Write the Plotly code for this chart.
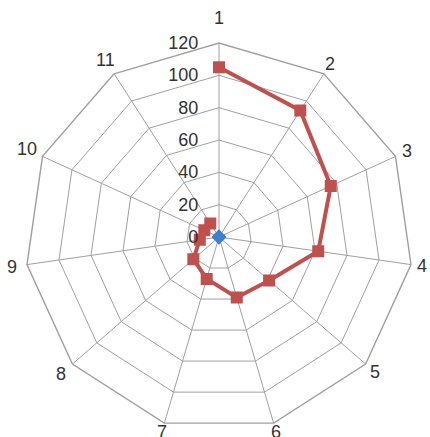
import math
import plotly.graph_objects as go

categories = ["1", "2", "3", "4", "5", "6", "7", "8", "9", "10", "11"]
series_a = [105, 93, 76, 62, 41, 39, 27, 21, 12, 10, 10]
series_b = [0, 0, 0, 0, 0, 0, 0, 0, 0, 0, 0]
radial_ticks = [0, 20, 40, 60, 80, 100, 120]

# distance (px) of each category label from its polygon vertex
label_pads = [25, 12, 13, 11, 12, 9, 9, 15, 15, 17, 16]

fig = go.Figure()
fig.add_trace(go.Scatterpolar(
    r=series_a, theta=categories, mode="lines+markers",
    line=dict(color="#C0504D", width=4),
    marker=dict(symbol="square", size=12, color="#C0504D"),
    cliponaxis=True, showlegend=False,
))
fig.add_trace(go.Scatterpolar(
    r=series_b, theta=categories, mode="lines+markers",
    line=dict(color="#4F81BD", width=3),
    marker=dict(symbol="diamond", size=11, color="#3F7FCF"),
    cliponaxis=True, showlegend=False,
))

label_font = dict(family="Liberation Sans, Arial, sans-serif", size=18, color="#333333")
annotations = []
n = len(categories)
for k, name in enumerate(categories):
    ang = 2 * math.pi * k / n
    pad = label_pads[k]
    annotations.append(dict(
        text=name, showarrow=False, xref="paper", yref="paper",
        x=0.5 + 0.5 * math.sin(ang), y=0.5 + 0.5 * math.cos(ang),
        xshift=pad * math.sin(ang), yshift=pad * math.cos(ang),
        xanchor="center", yanchor="middle", font=label_font,
    ))

grid = "#A0A0A0"
fig.update_layout(
    width=430, height=437,
    margin=dict(l=25, r=17, t=43, b=6),
    paper_bgcolor="white",
    font=label_font,
    annotations=annotations,
    polar=dict(
        bgcolor="white",
        gridshape="linear",
        domain=dict(x=[0, 1], y=[0, 1]),
        angularaxis=dict(
            rotation=90, direction="clockwise",
            categoryorder="array", categoryarray=categories,
            showline=True, linecolor=grid, linewidth=1.4,
            gridcolor=grid, gridwidth=1.4,
            ticks="", showticklabels=False,
        ),
        radialaxis=dict(
            range=[0, 120], tickvals=radial_ticks,
            angle=90, tickangle=90, side="counterclockwise",
            showline=False, gridcolor=grid, gridwidth=1.4,
            ticks="outside", ticklen=14, tickcolor="rgba(0,0,0,0)",
            tickfont=label_font,
        ),
    ),
)

fig.write_html("out.html")
